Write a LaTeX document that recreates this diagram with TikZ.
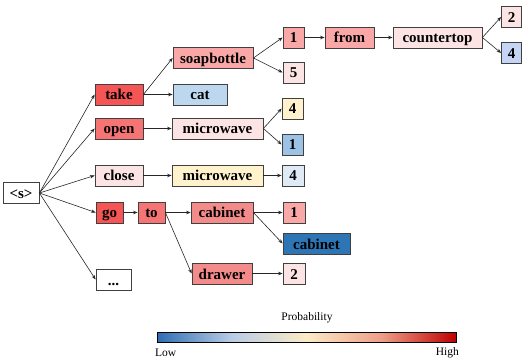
\documentclass[tikz,border=0pt]{standalone}
\usepackage{fontspec}
\setmainfont{Liberation Serif}
\usetikzlibrary{arrows.meta}
\definecolor{cA}{HTML}{F65555}
\definecolor{cB}{HTML}{F77474}
\definecolor{cC}{HTML}{F9A7A7}
\definecolor{cD}{HTML}{F48B8B}
\definecolor{cE}{HTML}{FDE4E4}
\definecolor{cCat}{HTML}{BDD7EE}
\definecolor{cFourC}{HTML}{C6D4F5}
\definecolor{cYel}{HTML}{FFF2CC}
\definecolor{cOneB}{HTML}{9CC2E5}
\definecolor{cFourB}{HTML}{DEEBF7}
\definecolor{cCabB}{HTML}{2E75B6}
\definecolor{bar1}{HTML}{2E6DB2}
\definecolor{bar2}{HTML}{B9CCE6}
\definecolor{bar3}{HTML}{FBEBC6}
\definecolor{bar4}{HTML}{EE9F87}
\definecolor{bar5}{HTML}{BE0000}
\pgfdeclarehorizontalshading{probbar}{100bp}{color(0bp)=(bar1); color(25bp)=(bar1); color(37.5bp)=(bar2); color(50bp)=(bar3); color(62.5bp)=(bar4); color(75bp)=(bar5); color(100bp)=(bar5)}
\tikzset{
  wbox/.style={draw=black!75, line width=0.8pt, minimum height=21pt, inner sep=0pt, text height=11pt, text depth=0pt, font=\fontsize{15}{17}\selectfont\bfseries, anchor=center},
  conn/.style={draw=black!85, line width=0.6pt, -{Stealth[length=4.5pt,width=3.5pt]}},
  captext/.style={font=\fontsize{11.5}{13}\selectfont}
}
\begin{document}
\begin{tikzpicture}[x=1pt,y=-1pt]
\useasboundingbox (0,0) rectangle (522,358);
% column 0
\node[wbox, minimum width=36pt, fill=white] (s) at (21,193) {<s>};
% column 1
\node[wbox, minimum width=48pt, fill=cA] (take) at (119,94.5) {take};
\node[wbox, minimum width=48pt, fill=cB] (open) at (119,128.5) {open};
\node[wbox, minimum width=48pt, fill=cE] (close) at (119,175.5) {close};
\node[wbox, minimum width=27pt, fill=cA] (go) at (109.5,212.5) {go};
\node[wbox, minimum width=35pt, fill=white] (dots) at (113.5,279.5) {...};
% column 2
\node[wbox, minimum width=80pt, fill=cC] (soap) at (213,58) {soapbottle};
\node[wbox, minimum width=54pt, fill=cCat] (cat) at (200,94.5) {cat};
\node[wbox, minimum width=91pt, fill=cE] (mwa) at (217.5,128.5) {microwave};
\node[wbox, minimum width=91pt, fill=cYel] (mwb) at (217.5,175.5) {microwave};
\node[wbox, minimum width=27pt, fill=cB] (to) at (151.5,212.5) {to};
\node[wbox, minimum width=62pt, fill=cD] (cab) at (222,212.5) {cabinet};
\node[wbox, minimum width=60pt, fill=cD] (drawer) at (222,273.5) {drawer};
% column 3
\node[wbox, minimum width=21pt, fill=cC] (onea) at (293.5,37.5) {1};
\node[wbox, minimum width=21pt, fill=cE] (five) at (293.5,72.5) {5};
\node[wbox, minimum width=21pt, fill=cYel] (foura) at (292.5,108.5) {4};
\node[wbox, minimum width=21pt, fill=cOneB] (oneb) at (292.5,144.5) {1};
\node[wbox, minimum width=22pt, fill=cFourB] (fourb) at (293,175.5) {4};
\node[wbox, minimum width=22pt, fill=cC] (onec) at (294,212.5) {1};
\node[wbox, minimum width=67pt, fill=cCabB] (cabb) at (316.5,243.5) {cabinet};
\node[wbox, minimum width=22pt, fill=cE] (twob) at (294,273.5) {2};
% column 4+
\node[wbox, minimum width=49pt, fill=cC] (from) at (349.5,37.5) {from};
\node[wbox, minimum width=89pt, fill=cE] (counter) at (437.5,37.5) {countertop};
\node[wbox, minimum width=20pt, fill=cE] (twoa) at (511.5,17) {2};
\node[wbox, minimum width=20pt, fill=cFourC] (fourc) at (511.5,53) {4};
% connectors
\foreach \t in {take,open,close,go,dots} \draw[conn] (s.east) -- (\t.west);
\draw[conn] (take.east) -- (soap.west);
\draw[conn] (take.east) -- (cat.west);
\draw[conn] (open.east) -- (mwa.west);
\draw[conn] (close.east) -- (mwb.west);
\draw[conn] (go.east) -- (to.west);
\draw[conn] (to.east) -- (cab.west);
\draw[conn] (to.east) -- (drawer.west);
\draw[conn] (soap.east) -- (onea.west);
\draw[conn] (soap.east) -- (five.west);
\draw[conn] (mwa.east) -- (foura.west);
\draw[conn] (mwa.east) -- (oneb.west);
\draw[conn] (mwb.east) -- (fourb.west);
\draw[conn] (cab.east) -- (onec.west);
\draw[conn] (cab.east) -- (cabb.west);
\draw[conn] (drawer.east) -- (twob.west);
\draw[conn] (onea.east) -- (from.west);
\draw[conn] (from.east) -- (counter.west);
\draw[conn] (counter.east) -- (twoa.west);
\draw[conn] (counter.east) -- (fourc.west);
% colour bar
\node[captext] (ptitle) at (307,318) {Probability};
\shade[shading=probbar, draw=black, line width=0.8pt] (157,332) rectangle (456,342);
\node[captext, anchor=west, inner sep=0pt] (low) at (155,353) {Low};
\node[captext, anchor=east, inner sep=0pt] (high) at (459,353) {High};
\end{tikzpicture}
\end{document}
